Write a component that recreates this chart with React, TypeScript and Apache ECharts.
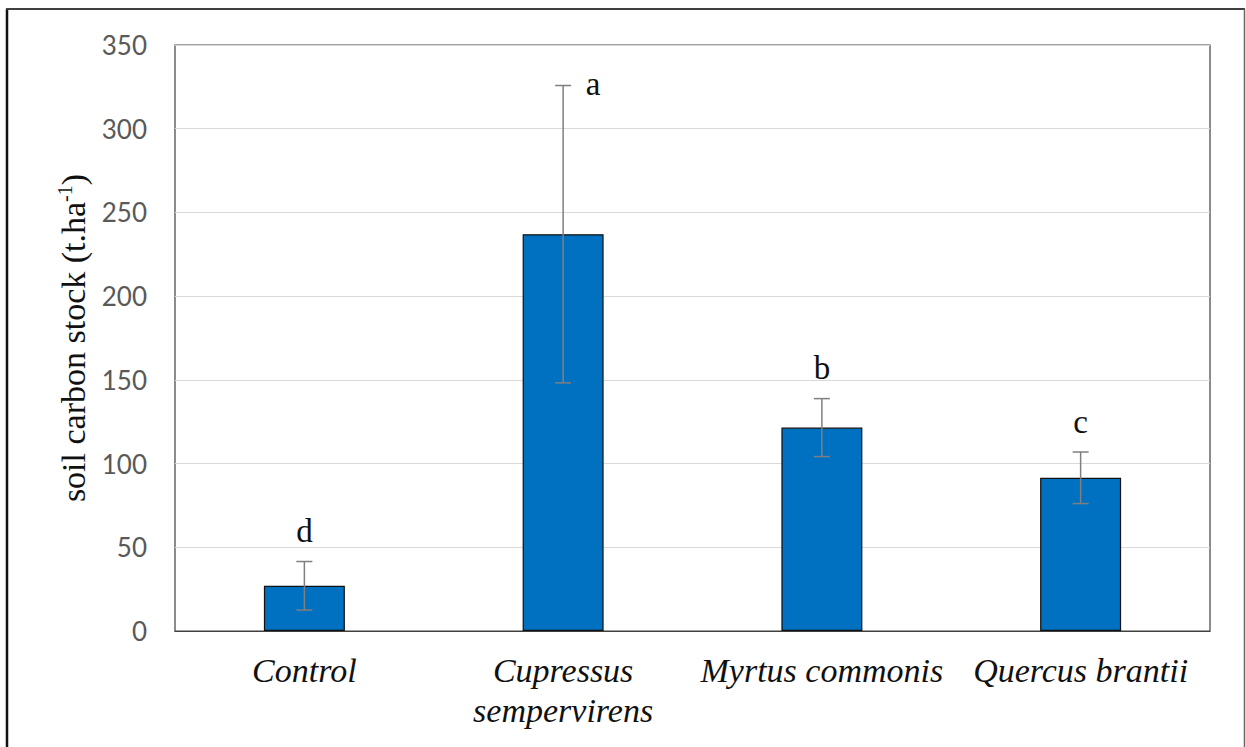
import React, { useEffect, useRef } from "react";
import * as echarts from "echarts";

const categories = ["Control", "Cupressus\nsempervirens", "Myrtus commonis", "Quercus brantii"];
const meanValues = [27, 237, 121.5, 91.5];
const errorValues = [14.5, 88.8, 17.3, 15.4];
const letters = ["d", "a", "b", "c"];
const letterSide = ["top", "right", "top", "top"];
const yTicks = { min: 0, max: 350, interval: 50 };

export default function App() {
  const ref = useRef<HTMLDivElement>(null);
  useEffect(() => {
    if (!ref.current) return;
    const chart = echarts.init(ref.current, null, { renderer: "svg" });
    const errData = meanValues.map((v, i) => [i, v - errorValues[i], v + errorValues[i], i]);
    chart.setOption({
      animation: false,
      backgroundColor: "#ffffff",
      grid: {
        left: 175,
        top: 45,
        right: 36,
        bottom: 116,
        show: true,
        borderColor: "#404040",
        borderWidth: 1.2,
        backgroundColor: "transparent",
      },
      xAxis: {
        type: "category",
        data: categories,
        axisTick: { show: false },
        axisLine: { show: true, lineStyle: { color: "#404040", width: 1.2 } },
        axisLabel: {
          interval: 0,
          margin: 19,
          fontFamily: "Liberation Serif",
          fontStyle: "italic",
          fontSize: 34,
          lineHeight: 40,
          color: "#111111",
        },
      },
      yAxis: {
        type: "value",
        min: yTicks.min,
        max: yTicks.max,
        interval: yTicks.interval,
        name: "{n|soil carbon stock (t.ha}{s|-1}{n|)}",
        nameLocation: "middle",
        nameRotate: 90,
        nameGap: 82,
        nameTextStyle: {
          fontFamily: "Liberation Serif",
          fontSize: 34,
          color: "#111111",
          rich: {
            n: { fontFamily: "Liberation Serif", fontSize: 34, color: "#111111", lineHeight: 38 },
            s: { fontFamily: "Liberation Serif", fontSize: 20, color: "#111111", verticalAlign: "top", lineHeight: 38 },
          },
        },
        axisLine: { show: false },
        axisTick: { show: false },
        splitLine: { show: true, lineStyle: { color: "#d9d9d9", width: 1.2 } },
        axisLabel: {
          margin: 28,
          fontFamily: "Lato",
          fontSize: 26,
          color: "#595959",
        },
      },
      series: [
        {
          type: "bar",
          data: meanValues,
          barWidth: "31.3%",
          itemStyle: { color: "#0070C0", borderColor: "#111111", borderWidth: 1.2 },
          z: 2,
        },
        {
          type: "custom",
          data: errData,
          z: 5,
          encode: { x: 0, y: [1, 2] },
          renderItem: (params: any, api: any) => {
            const idx = api.value(3);
            const lo = api.coord([api.value(0), api.value(1)]);
            const hi = api.coord([api.value(0), api.value(2)]);
            const x = lo[0];
            const half = 8;
            const st = { stroke: "#7f7f7f", lineWidth: 1.5 };
            const side = letterSide[idx];
            const font = "33px 'Liberation Serif'";
            const letter =
              side === "right"
                ? {
                    type: "text",
                    style: {
                      x: x + 30,
                      y: hi[1] - 2,
                      text: letters[idx],
                      fill: "#111111",
                      font,
                      align: "center",
                      verticalAlign: "middle",
                    },
                  }
                : {
                    type: "text",
                    style: {
                      x: x,
                      y: hi[1] - 14,
                      text: letters[idx],
                      fill: "#111111",
                      font,
                      align: "center",
                      verticalAlign: "bottom",
                    },
                  };
            return {
              type: "group",
              children: [
                { type: "line", shape: { x1: x, y1: lo[1], x2: x, y2: hi[1] }, style: st },
                { type: "line", shape: { x1: x - half, y1: lo[1], x2: x + half, y2: lo[1] }, style: st },
                { type: "line", shape: { x1: x - half, y1: hi[1], x2: x + half, y2: hi[1] }, style: st },
                letter,
              ],
            };
          },
        },
      ],
      graphic: [
        { type: "line", shape: { x1: 7, y1: 9, x2: 7, y2: 747 }, style: { stroke: "#111111", lineWidth: 2.5 } },
        { type: "line", shape: { x1: 6, y1: 9, x2: 1245, y2: 9 }, style: { stroke: "#404040", lineWidth: 2 } },
        { type: "line", shape: { x1: 1244.5, y1: 9, x2: 1244.5, y2: 747 }, style: { stroke: "#666666", lineWidth: 1.5 } },
      ],
    });
    return () => chart.dispose();
  }, []);
  return (
    <div
      ref={ref}
      style={{ position: "fixed", left: 0, top: 0, width: 1246, height: 747, background: "#fff" }}
    />
  );
}
